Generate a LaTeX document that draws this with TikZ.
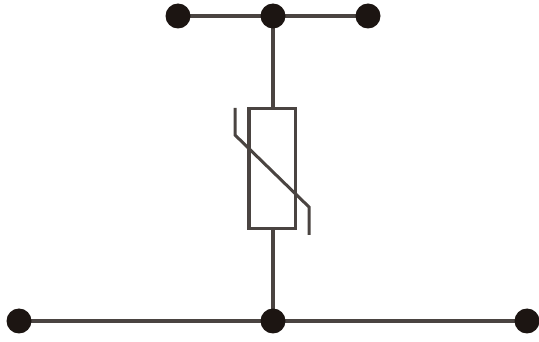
\documentclass[tikz,border=0pt]{standalone}
\usetikzlibrary{backgrounds}
\definecolor{ink}{HTML}{1C1512}
\definecolor{linecol}{HTML}{4A4441}
\begin{document}
\begin{tikzpicture}[x=1pt,y=-1pt,
  wire/.style={draw=linecol,line width=4.4pt},
  bodyline/.style={draw=linecol,line width=3pt},
  dot/.style={circle,fill=ink,draw=none,minimum size=25pt,inner sep=0pt}]
\useasboundingbox (0,0) rectangle (539,342);
\node[dot] (t1) at (178,16) {};
\node[dot] (t2) at (273,16) {};
\node[dot] (t3) at (368,16) {};
\node[dot] (b1) at (19,321) {};
\node[dot] (b2) at (273,321) {};
\node[dot] (b3) at (527,321) {};
\node[bodyline,draw,rectangle,minimum width=47pt,minimum height=120pt,inner sep=0pt] (r) at (272,169) {};
\coordinate (ra) at (r.north -| t2);
\coordinate (rb) at (r.south -| b2);
\begin{scope}[on background layer]
\draw[wire] (t1.center) -- (t2.center);
\draw[wire] (t2.center) -- (t3.center);
\draw[wire] (t2.center) -- (ra);
\draw[wire] (rb) -- (b2.center);
\draw[wire] (b1.center) -- (b2.center);
\draw[wire] (b2.center) -- (b3.center);
\end{scope}
\coordinate (vl) at (250,109);
\coordinate (vm) at (250,229);
\draw[draw=linecol,line width=2pt] (vl) -- (vm);
\coordinate (va) at (235,108);
\coordinate (vb) at (235,135);
\coordinate (vc) at (309,207);
\coordinate (vd) at (309,235);
\draw[bodyline,line join=miter] (va) -- (vb) -- (vc) -- (vd);
\end{tikzpicture}
\end{document}
